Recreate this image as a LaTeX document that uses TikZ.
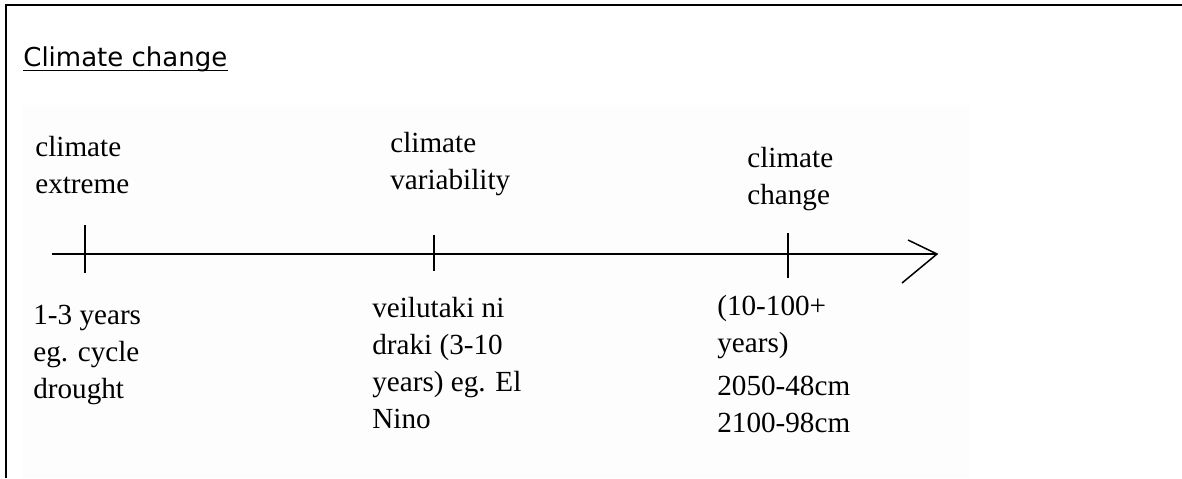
\documentclass[tikz,border=0pt]{standalone}
\usepackage{fontspec}
\setmainfont{Liberation Serif}
\newfontfamily\titlefont{DejaVu Sans}
\usetikzlibrary{calc}
%% multi-line labels: base anchor sits on the last line
\tikzset{tlabel/.style={
  anchor=base west,
  align=left,
  inner sep=0pt,
  font=\fontsize{16.6}{21}\selectfont}}
\tikzset{tbar/.style={
  line width=.85pt}}
\tikzset{frameline/.style={
  line width=1.15pt}}

\begin{document}
\begin{tikzpicture}[x=0.02cm,y=-0.02cm]
  \useasboundingbox (0,0) rectangle (1182,478);

  %%%% Frame and backdrop %%%%
  \fill[black!0.7] (22,105) rectangle (970,478);
  \draw[frameline] (6,478) -- (6,5) -- (1182,5);

  %% Title
  \node[anchor=base west,inner sep=0pt,font=\titlefont\fontsize{14.8}{18}\selectfont]
    (title) at (23,66) {Climate change};
  \draw[line width=.8pt] ($(title.base west)+(0,4.5)$) -- ($(title.base east)+(0,4.5)$);

  %%%% Axis and set coordinates %%%%
  \coordinate (axisStart) at (52,254);
  \coordinate (axisEnd) at (937,254);
  \coordinate (headTop) at (908,240);
  \coordinate (headBot) at (902,283);
  \draw[tbar] (axisStart) -- (axisEnd);
  %% Open arrow head
  \draw[tbar] (headTop) -- (axisEnd) -- (headBot);

  %% Ticks
  \foreach \name/\x/\t/\b in {ext/85/225/273,var/434/235/271,chg/788/233/278}{
    \coordinate (\name-top) at (\x,\t);
    \coordinate (\name-bot) at (\x,\b);
    \draw[tbar] (\name-top) -- (\name-bot);
  }

  %% Labels above the axis
  \node[tlabel] (extremeLbl) at (35,193) {climate\\extreme};
  \node[tlabel] (variabilityLbl) at (390,189) {climate\\variability};
  \node[tlabel] (changeLbl) at (747,204) {climate\\change};

  %% Texts below the axis
  \node[tlabel] (extremeTxt) at (33,398) {1-3 years\\eg. cycle\\drought};
  \node[tlabel] (variabilityTxt) at (372,428) {veilutaki ni\\draki (3-10\\years) eg. El\\Nino};
  \node[tlabel] (changeTxt) at (717,432) {(10-100+\\years)\\[3.4pt]2050-48cm\\2100-98cm};

\end{tikzpicture}
\end{document}
